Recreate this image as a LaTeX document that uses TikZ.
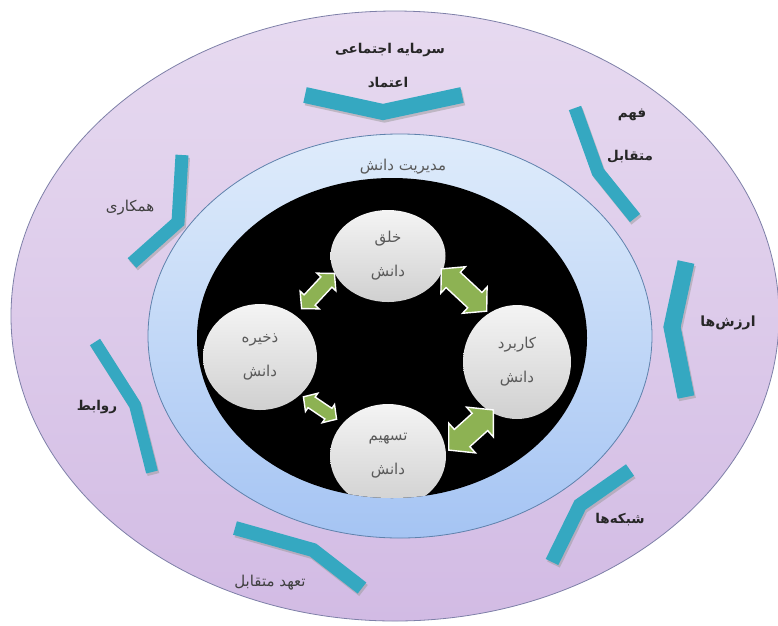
\documentclass[tikz,border=0pt]{standalone}
\usepackage{fontspec}
\newfontfamily\arfont[Script=Arabic]{DejaVu Sans}
\TeXXeTstate=1
\usetikzlibrary{shapes.geometric}
\newcommand{\ar}[1]{\beginR #1\endR}
\definecolor{outerc}{HTML}{E7DAF0}
\definecolor{outerb}{HTML}{D2BBE4}
\definecolor{outl}{HTML}{7E80A8}
\definecolor{innert}{HTML}{DFECFB}
\definecolor{innerb}{HTML}{A5C4F3}
\definecolor{innl}{HTML}{5F82AC}
\definecolor{bandc}{HTML}{35A8C1}
\definecolor{arrowg}{HTML}{8DB253}
\definecolor{circt}{HTML}{F4F4F4}
\definecolor{circb}{HTML}{D0D0D0}
\begin{document}
\begin{tikzpicture}[x=1pt,y=-1pt,
  bandline/.style={draw=bandc, line width=#1, line join=miter, line cap=butt, miter limit=20},
  bandshadow/.style={draw=black!40, line width=#1, line join=miter, line cap=butt, miter limit=20, opacity=0.5},
  knode/.style={ellipse, top color=circt, bottom color=circb, draw=none, text=black!65,
    font=\arfont\fontsize{15}{34}\selectfont, align=center, inner sep=0pt},
  pics/dblarr/.style 2 args={code={
    \pgfmathsetmacro{\hL}{#1/2}\pgfmathsetmacro{\hh}{#2/2}%
    \pgfmathsetmacro{\hs}{#2*0.29}\pgfmathsetmacro{\hx}{#1/2-0.45*#2}%
    \filldraw[fill=arrowg, draw=white, line width=1.4pt, line join=miter]
      (-\hL,0) -- (-\hx,\hh) -- (-\hx,\hs) -- (\hx,\hs) -- (\hx,\hh) -- (\hL,0)
      -- (\hx,-\hh) -- (\hx,-\hs) -- (-\hx,-\hs) -- (-\hx,-\hh) -- cycle;}},
  boldlab/.style={font=\arfont\bfseries\fontsize{13.5}{16}\selectfont, text=black!85},
  plainlab/.style={font=\arfont\fontsize{15}{18}\selectfont, text=black!75}]
\useasboundingbox (0,0) rectangle (778,625);
\fill[white] (0,0) rectangle (778,625);
\begin{scope}
  \clip (0,0) rectangle (778,625);
  % outer ellipse
  \path[top color=outerc, bottom color=outerb] (395,316) ellipse [x radius=384, y radius=305];
  \draw[outl, line width=0.8pt] (395,316) ellipse [x radius=384, y radius=305];
  % inner ellipse
  \path[top color=innert, bottom color=innerb] (400,336) ellipse [x radius=252, y radius=202];
  \draw[innl, line width=0.8pt] (400,336) ellipse [x radius=252, y radius=202];
  % black ellipse
  \fill[black] (392,338) ellipse [x radius=195, y radius=160];
\end{scope}

% bands: shadows
\begin{scope}[shift={(1.5,2.5)}]
  \foreach \p/\q/\r/\w in {{305,95}/{383,112}/{462,95}/16,
                           {575,108}/{598,172}/{635,218}/13,
                           {686,262}/{672,327}/{686,397}/17,
                           {630,470}/{580,505}/{552,562}/14,
                           {235,528}/{313,550}/{362,588}/14,
                           {95,342}/{135,405}/{152,472}/12,
                           {182,155}/{178,222}/{132,263}/13}
    {\draw[bandshadow=\w] (\p) -- (\q) -- (\r);}
\end{scope}
% bands
\foreach \p/\q/\r/\w in {{305,95}/{383,112}/{462,95}/16,
                         {575,108}/{598,172}/{635,218}/13,
                         {686,262}/{672,327}/{686,397}/17,
                         {630,470}/{580,505}/{552,562}/14,
                         {235,528}/{313,550}/{362,588}/14,
                         {95,342}/{135,405}/{152,472}/12,
                         {182,155}/{178,222}/{132,263}/13}
  {\draw[bandline=\w] (\p) -- (\q) -- (\r);}

% knowledge circles
\node[knode, minimum width=115, minimum height=92] (create) at (388,256) {\ar{خلق}\\\ar{دانش}};
\node[knode, minimum width=114, minimum height=106] (store) at (260,357) {\ar{ذخیره}\\\ar{دانش}};
\node[knode, minimum width=108, minimum height=114] (apply) at (517,362) {\ar{کاربرد}\\\ar{دانش}};
\begin{scope}
  \clip (392,338) ellipse [x radius=195, y radius=160];
  \node[knode, minimum width=116, minimum height=104] (share) at (388,456) {\ar{تسهیم}\\\ar{دانش}};
\end{scope}

% double arrows
\pic[rotate=47] (a1) at (318,291) {dblarr={48}{26}};
\pic[rotate=-43] (a2) at (464,290) {dblarr={62}{36}};
\pic[rotate=-34] (a3) at (320,408) {dblarr={40}{22}};
\pic[rotate=42] (a4) at (471,430) {dblarr={60}{40}};

% labels
\node[boldlab] (sc) at (390,50) {\ar{سرمایه اجتماعی}};
\node[boldlab] (trust) at (388,83) {\ar{اعتماد}};
\node[plainlab, text=black!65] (km) at (403,167) {\ar{مدیریت دانش}};
\node[boldlab] (fahm1) at (632,115) {\ar{فهم}};
\node[boldlab] (fahm2) at (630,157) {\ar{متقابل}};
\node[boldlab, font=\arfont\bfseries\fontsize{14}{16}\selectfont] (values) at (728,323) {\ar{ارزش‌ها}};
\node[boldlab] (net) at (620,520) {\ar{شبکه‌ها}};
\node[plainlab] (comm) at (270,583) {\ar{تعهد متقابل}};
\node[boldlab] (rel) at (97,407) {\ar{روابط}};
\node[plainlab] (coop) at (130,208) {\ar{همکاری}};
\end{tikzpicture}
\end{document}
